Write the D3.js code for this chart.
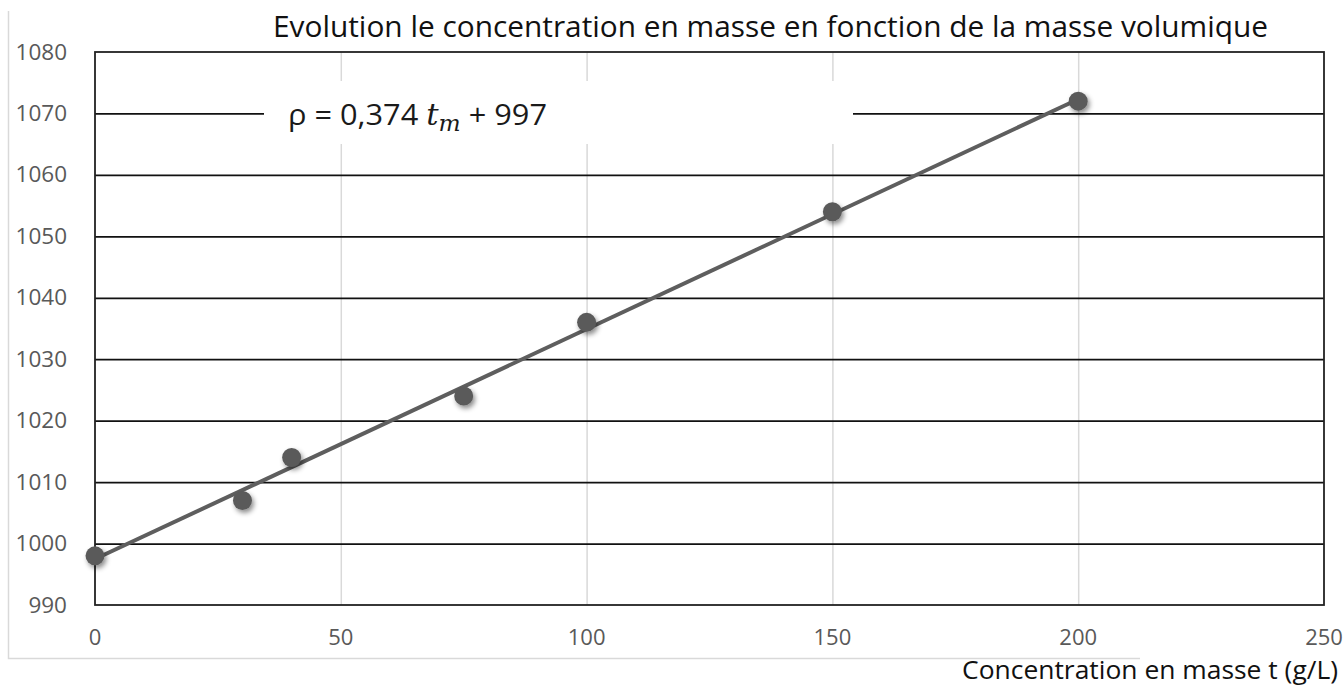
<!DOCTYPE html>
<html lang="fr">
<head>
<meta charset="UTF-8"/>
<title>Evolution masse volumique</title>
<script src="https://d3js.org/d3.v7.min.js"></script>
<style>
    body { margin: 0; background: #fff; }
    svg text { font-family: "Open Sans", "Noto Sans", sans-serif; }
</style>
</head>
<body>
<script>
    // data
    var concentration = [0, 30, 40, 75, 100, 150, 200];
    var density = [998, 1007, 1014, 1024, 1036, 1054, 1072];
    var xTicks = [0, 50, 100, 150, 200, 250];
    var yTicks = [990, 1000, 1010, 1020, 1030, 1040, 1050, 1060, 1070, 1080];

    var w = 1344, h = 691;
    var plotL = 95, plotR = 1324, plotT = 52, plotB = 605;

    var svg = d3.select("body").append("svg")
        .attr("width", w).attr("height", h);

    var defs = svg.append("defs");
    var f = defs.append("filter").attr("id", "shadow")
        .attr("x", "-50%").attr("y", "-50%").attr("width", "200%").attr("height", "200%");
    f.append("feDropShadow").attr("dx", 2).attr("dy", 3).attr("stdDeviation", 2.5)
        .attr("flood-color", "#000").attr("flood-opacity", 0.45);

    var x = d3.scaleLinear().domain([0, 250]).range([plotL, plotR]);
    var y = d3.scaleLinear().domain([990, 1080]).range([plotB, plotT]);

    // outer chart area border (light grey)
    svg.append("path")
        .attr("d", "M8.5,11V658.5H1140")
        .attr("fill", "none").attr("stroke", "#d9d9d9").attr("stroke-width", 1.5);

    // vertical gridlines
    svg.append("g")
        .attr("transform", "translate(0," + plotB + ")")
        .call(d3.axisBottom(x).tickValues(xTicks.slice(1, -1)).tickSize(-(plotB - plotT)).tickFormat(""))
        .call(g => g.select(".domain").remove())
        .selectAll("line").attr("stroke", "#d9d9d9").attr("stroke-width", 1.5);

    // horizontal gridlines
    svg.append("g")
        .attr("transform", "translate(" + plotL + ",0)")
        .call(d3.axisLeft(y).tickValues(yTicks.slice(1, -1)).tickSize(-(plotR - plotL)).tickFormat(""))
        .call(g => g.select(".domain").remove())
        .selectAll("line").attr("stroke", "#111").attr("stroke-width", 1.8);

    // plot border
    svg.append("rect")
        .attr("x", plotL).attr("y", plotT)
        .attr("width", plotR - plotL).attr("height", plotB - plotT)
        .attr("fill", "none").attr("stroke", "#222").attr("stroke-width", 1.8);

    // tick labels
    svg.append("g").selectAll("text").data(yTicks).join("text")
        .attr("x", 67).attr("y", d => y(d) + 7.5)
        .attr("text-anchor", "end")
        .attr("font-size", 22.5).attr("fill", "#595959")
        .text(d => d);

    svg.append("g").selectAll("text").data(xTicks).join("text")
        .attr("x", d => x(d)).attr("y", 645)
        .attr("text-anchor", "middle")
        .attr("font-size", 22).attr("fill", "#595959")
        .text(d => d);

    // equation label box
    svg.append("rect")
        .attr("x", 264).attr("y", 81).attr("width", 589).attr("height", 63)
        .attr("fill", "#fff");

    var eq = svg.append("text")
        .attr("x", 288).attr("y", 125)
        .attr("font-size", 29).attr("fill", "#1a1a1a")
        .attr("textLength", 259).attr("lengthAdjust", "spacingAndGlyphs");
    eq.append("tspan").text("ρ = 0,374 ");
    eq.append("tspan").attr("font-family", "'DejaVu Serif', serif").attr("font-style", "italic").text("t");
    eq.append("tspan").attr("font-family", "'DejaVu Serif', serif").attr("font-style", "italic")
        .attr("font-size", 22).attr("dy", 6).text("m");
    eq.append("tspan").attr("dy", -6).text(" + 997");

    // linear trendline (least squares)
    var mx = d3.mean(concentration), my = d3.mean(density);
    var sxy = d3.sum(concentration, (c, i) => (c - mx) * (density[i] - my));
    var sxx = d3.sum(concentration, c => (c - mx) * (c - mx));
    var slope = sxy / sxx, icpt = my - slope * mx;
    var ext = d3.extent(concentration);

    svg.append("path")
        .datum(ext)
        .attr("d", d3.line().x(d => x(d)).y(d => y(slope * d + icpt)))
        .attr("fill", "none").attr("stroke", "#5e5e5e").attr("stroke-width", 4);

    // points
    svg.append("g").selectAll("circle").data(concentration).join("circle")
        .attr("cx", d => x(d))
        .attr("cy", (d, i) => y(density[i]))
        .attr("r", 9.5)
        .attr("fill", "#5a5a5a")
        .attr("filter", "url(#shadow)");

    // titles
    svg.append("text")
        .attr("x", 273).attr("y", 37)
        .attr("font-size", 29).attr("fill", "#111")
        .attr("textLength", 995).attr("lengthAdjust", "spacingAndGlyphs")
        .text("Evolution le concentration en masse en fonction de la masse volumique");

    svg.append("text")
        .attr("x", 962).attr("y", 679)
        .attr("font-size", 25).attr("fill", "#111")
        .attr("textLength", 376).attr("lengthAdjust", "spacingAndGlyphs")
        .text("Concentration en masse t (g/L)");
</script>
</body>
</html>
